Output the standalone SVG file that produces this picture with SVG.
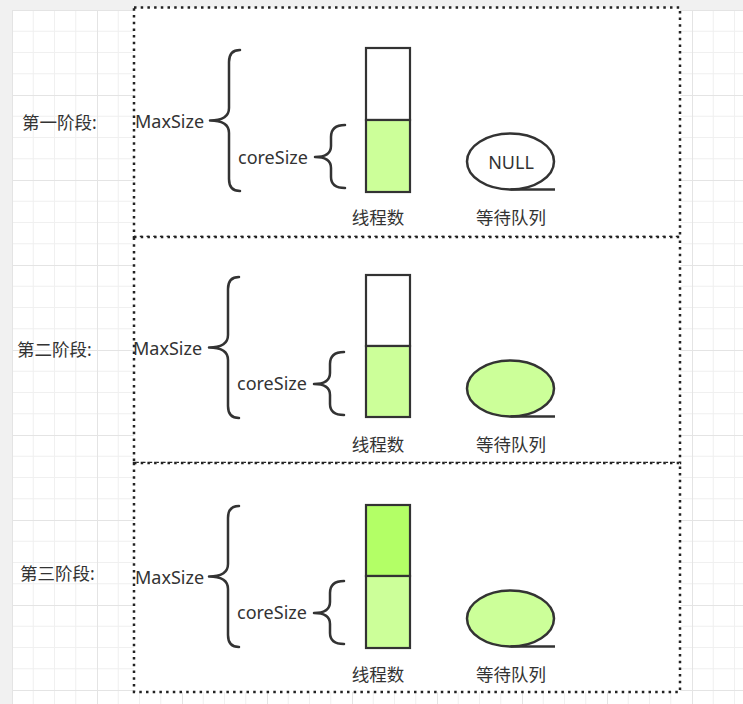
<svg xmlns="http://www.w3.org/2000/svg" width="743" height="704" viewBox="0 0 743 704">
<style>
.t{font-family:"Noto Sans","Noto Sans CJK SC",sans-serif;font-size:18px;fill:#333;dominant-baseline:central}
.cn{font-family:"Noto Sans","Noto Sans CJK SC",sans-serif;font-size:17.5px;fill:#333;dominant-baseline:central}
.box{fill:#fff;stroke:#222;stroke-width:2.5;stroke-dasharray:2.5 4.2}
.brace{fill:none;stroke:#333;stroke-width:2.5;stroke-linecap:round;stroke-linejoin:round}
.bar{stroke:#333;stroke-width:2.2}
.q{stroke:#333;stroke-width:2.5}
</style>
<defs>
<pattern id="grid" patternUnits="userSpaceOnUse" x="12" y="10" width="85" height="85">
<rect width="85" height="85" fill="#fff"/>
<path d="M21.25 0V85M42.5 0V85M63.75 0V85M0 21.25H85M0 42.5H85M0 63.75H85" stroke="#f0f0f0" stroke-width="1"/>
<path d="M0.5 0V85M0 0.5H85" stroke="#e4e4e4" stroke-width="1"/>
</pattern>
<g id="bigBrace"><path class="brace" d="M240,50 Q229,50 229,62 L229,108 Q229,120.5 210,120.5 Q229,120.5 229,133 L229,179 Q229,191 240,191"/></g>
<g id="smallBrace"><path class="brace" d="M345,125 Q331,125 331,137 L331,146 Q331,157 315,157 Q331,157 331,168 L331,177 Q331,188 345,188"/></g>
</defs>
<rect width="743" height="704" fill="#f1f1f1"/>
<rect x="12" y="10" width="731" height="694" fill="url(#grid)"/>

<g id="stage1-frame"><rect class="box" x="134" y="7.5" width="546" height="229.5"/></g>
<g id="stage2-frame"><rect class="box" x="134" y="237" width="546" height="226"/></g>
<g id="stage3-frame"><rect class="box" x="134" y="463" width="546" height="229"/></g>

<g id="label-stage1"><text class="cn" x="22" y="122">第一阶段:</text></g>
<g id="label-stage2"><text class="cn" x="17" y="349">第二阶段:</text></g>
<g id="label-stage3"><text class="cn" x="20" y="573">第三阶段:</text></g>

<g id="stage1">
<g id="s1-maxsize"><text class="t" x="135" y="121">MaxSize</text><use href="#bigBrace"/></g>
<g id="s1-coresize"><text class="t" x="238" y="157">coreSize</text><use href="#smallBrace"/></g>
<g id="s1-threads">
<rect class="bar" x="366" y="48" width="44" height="72" fill="#fff"/>
<rect class="bar" x="366" y="120" width="44" height="72" fill="#ccff99"/>
<text class="cn" x="378" y="217" text-anchor="middle">线程数</text>
</g>
<g id="s1-queue">
<ellipse class="q" cx="510.5" cy="161.5" rx="43.5" ry="28" fill="#fff"/>
<path class="q" d="M510.5 189.5H555" fill="none"/>
<text class="t" x="511" y="162" text-anchor="middle">NULL</text>
<text class="cn" x="511" y="217" text-anchor="middle">等待队列</text>
</g>
</g>

<g id="stage2" transform="translate(-1,227)">
<g id="s2-maxsize"><text class="t" x="134" y="121">MaxSize</text><use href="#bigBrace"/></g>
<g id="s2-coresize"><text class="t" x="238" y="156">coreSize</text><use href="#smallBrace"/></g>
</g>
<g id="stage2-b" transform="translate(0,227)">
<g id="s2-threads">
<rect class="bar" x="366" y="48" width="44" height="71" fill="#fff"/>
<rect class="bar" x="366" y="119" width="44" height="71" fill="#ccff99"/>
<text class="cn" x="378" y="217" text-anchor="middle">线程数</text>
</g>
<g id="s2-queue">
<ellipse class="q" cx="510.5" cy="161.5" rx="43.5" ry="28" fill="#ccff99"/>
<path class="q" d="M510.5 189.5H555" fill="none"/>
<text class="cn" x="511" y="217" text-anchor="middle">等待队列</text>
</g>
</g>

<g id="stage3" transform="translate(-1,456)">
<g id="s3-maxsize"><text class="t" x="136" y="121">MaxSize</text><use href="#bigBrace"/></g>
<g id="s3-coresize"><text class="t" x="238" y="156">coreSize</text><use href="#smallBrace"/></g>
</g>
<g id="stage3-b" transform="translate(0,457)">
<g id="s3-threads">
<rect class="bar" x="366" y="48" width="44" height="71" fill="#b3ff66"/>
<rect class="bar" x="366" y="119" width="44" height="72" fill="#ccff99"/>
<text class="cn" x="378" y="217" text-anchor="middle">线程数</text>
</g>
<g id="s3-queue">
<ellipse class="q" cx="510.5" cy="161.5" rx="43.5" ry="28" fill="#ccff99"/>
<path class="q" d="M510.5 189.5H555" fill="none"/>
<text class="cn" x="511" y="217" text-anchor="middle">等待队列</text>
</g>
</g>
<g id="connectors"/>
</svg>
